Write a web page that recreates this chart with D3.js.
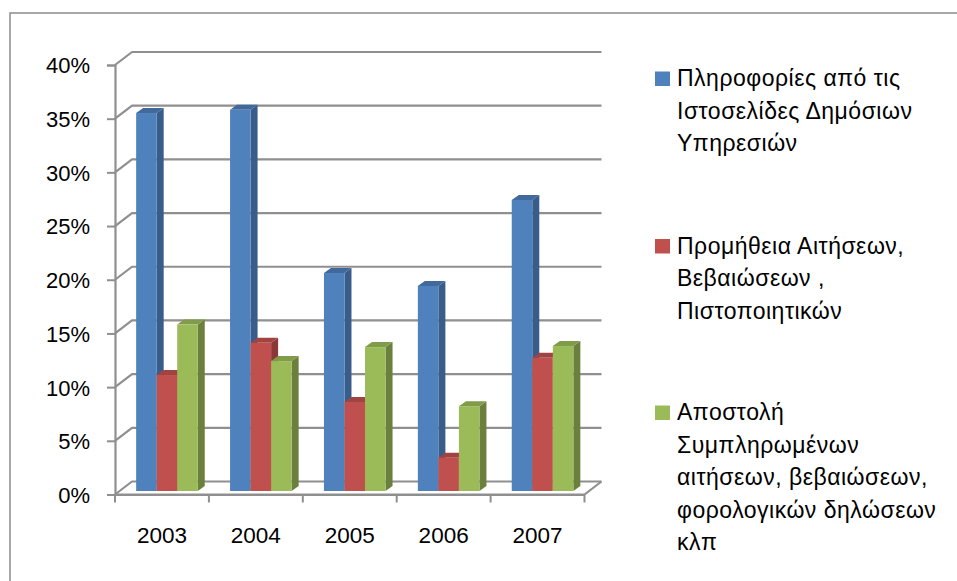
<!DOCTYPE html>
<html>
<head>
<meta charset="utf-8">
<script src="https://cdn.jsdelivr.net/npm/d3@7"></script>
<style>
  html, body { margin: 0; padding: 0; background: #fff; }
  svg { display: block; }
  text { font-family: "Liberation Sans", Arial, sans-serif; fill: #000; }
</style>
</head>
<body>
<svg id="chart" width="957" height="581"></svg>
<script>
// ---- data ----
const categories = ["2003", "2004", "2005", "2006", "2007"];
const seriesNames = [
  "Πληροφορίες από τις Ιστοσελίδες Δημόσιων Υπηρεσιών",
  "Προμήθεια Αιτήσεων, Βεβαιώσεων , Πιστοποιητικών",
  "Αποστολή Συμπληρωμένων αιτήσεων, βεβαιώσεων, φορολογικών δηλώσεων κλπ"
];
const infoValues   = [35.2, 35.5, 20.3, 19.1, 27.1];
const formsValues  = [10.8, 13.8, 8.3, 3.1, 12.4];
const submitValues = [15.5, 12.1, 13.4, 7.9, 13.5];
const yTicks = [0, 5, 10, 15, 20, 25, 30, 35, 40];
const legendLines = [
  ["Πληροφορίες από τις", "Ιστοσελίδες Δημόσιων", "Υπηρεσιών"],
  ["Προμήθεια Αιτήσεων,", "Βεβαιώσεων ,", "Πιστοποιητικών"],
  ["Αποστολή", "Συμπληρωμένων", "αιτήσεων, βεβαιώσεων,", "φορολογικών δηλώσεων", "κλπ"]
];

// ---- styles ----
const front = ["#4F81BD", "#C0504D", "#9BBB59"];
const side  = ["#385D8A", "#8C3836", "#6B803D"];
const top_  = ["#41699C", "#A04341", "#809B49"];
const gridColor = "#8f8f8f";

const svg = d3.select("#chart");
svg.append("rect").attr("x", 10).attr("y", 13).attr("width", 960).attr("height", 600)
  .attr("fill", "#fff").attr("stroke", "#8c8c8c").attr("stroke-width", 1.5);

const x = d3.scaleBand().domain(categories).range([115, 584.5]).padding(0);
const y = d3.scaleLinear().domain([0, 40]).range([494.5, 65]);
const xs = d3.scaleBand().domain([0, 1, 2])
  .range([x.bandwidth() * 0.172, x.bandwidth() * 0.828]).padding(0);

const BX = 17, BY = -13;        // back wall offset
const SX = 5, SY = -3.5;        // bar position within depth
const DX = 7, DY = -5;          // bar thickness (depth)
const xEnd = x.range()[1];

// floor
const g = svg.append("g");
g.append("path")
  .attr("d", `M${x.range()[0]},${y(0)} L${xEnd},${y(0)} L${xEnd + BX},${y(0) + BY}`)
  .attr("fill", "none").attr("stroke", gridColor).attr("stroke-width", 2.2);

// gridlines: back wall + left wall diagonals
yTicks.forEach(t => {
  g.append("path")
    .attr("d", `M${x.range()[0]},${y(t)} L${x.range()[0] + BX},${y(t) + BY} L${xEnd + BX},${y(t) + BY}`)
    .attr("fill", "none").attr("stroke", gridColor).attr("stroke-width", 2.2)
    .attr("stroke-linejoin", "round");
});

// y axis
const yAxis = d3.axisLeft(y).tickValues(yTicks).tickSize(8).tickPadding(17)
  .tickFormat(d => d + "%");
const ya = svg.append("g").attr("transform", `translate(${x.range()[0]},0)`).call(yAxis);
ya.select(".domain").attr("stroke", gridColor).attr("stroke-width", 2.2);
ya.selectAll(".tick line").attr("stroke", gridColor).attr("stroke-width", 2);
ya.selectAll(".tick text").style("font-size", "22px").attr("dy", "0.36em");

// x axis
const xAxis = d3.axisBottom(x).tickSize(0).tickPadding(33);
const xa = svg.append("g").attr("transform", `translate(0,${y(0)})`).call(xAxis);
xa.select(".domain").attr("stroke", gridColor).attr("stroke-width", 2.2);
xa.selectAll(".tick text").style("font-size", "22.5px");
// category boundary ticks
const bounds = categories.map(c => x(c)).concat([xEnd]);
xa.selectAll(".bound").data(bounds).enter().append("line")
  .attr("x1", d => d).attr("x2", d => d).attr("y1", 0).attr("y2", 8)
  .attr("stroke", gridColor).attr("stroke-width", 2);

// bars
const seriesValues = [infoValues, formsValues, submitValues];
const bars = svg.append("g");
categories.forEach((c, ci) => {
  seriesValues.forEach((vals, si) => {
    const v = vals[ci];
    const x0 = x(c) + xs(si) + SX;
    const w = xs.bandwidth();
    const yb = y(0) + SY;
    const yt = y(v) + SY;
    const bg = bars.append("g");
    // side
    bg.append("path")
      .attr("d", `M${x0 + w},${yt} L${x0 + w + DX},${yt + DY} L${x0 + w + DX},${yb + DY} L${x0 + w},${yb} Z`)
      .attr("fill", side[si]);
    // top
    bg.append("path")
      .attr("d", `M${x0},${yt} L${x0 + DX},${yt + DY} L${x0 + w + DX},${yt + DY} L${x0 + w},${yt} Z`)
      .attr("fill", top_[si]);
    // front
    bg.append("rect").attr("x", x0).attr("y", yt).attr("width", w).attr("height", yb - yt)
      .attr("fill", front[si]);
  });
});

// legend
const legendTops = [86, 253.5, 420];
const lineH = 32.5;
const lg = svg.append("g");
legendLines.forEach((lines, i) => {
  lg.append("rect").attr("x", 655).attr("y", legendTops[i] - 14.5)
    .attr("width", 15).attr("height", 14.5).attr("fill", front[i]);
  const t = lg.append("text").attr("x", 677).attr("y", legendTops[i])
    .style("font-size", "23px").style("letter-spacing", "0.5px");
  lines.forEach((ln, k) => {
    t.append("tspan").attr("x", 677).attr("y", legendTops[i] + k * lineH).text(ln);
  });
});
</script>
</body>
</html>
